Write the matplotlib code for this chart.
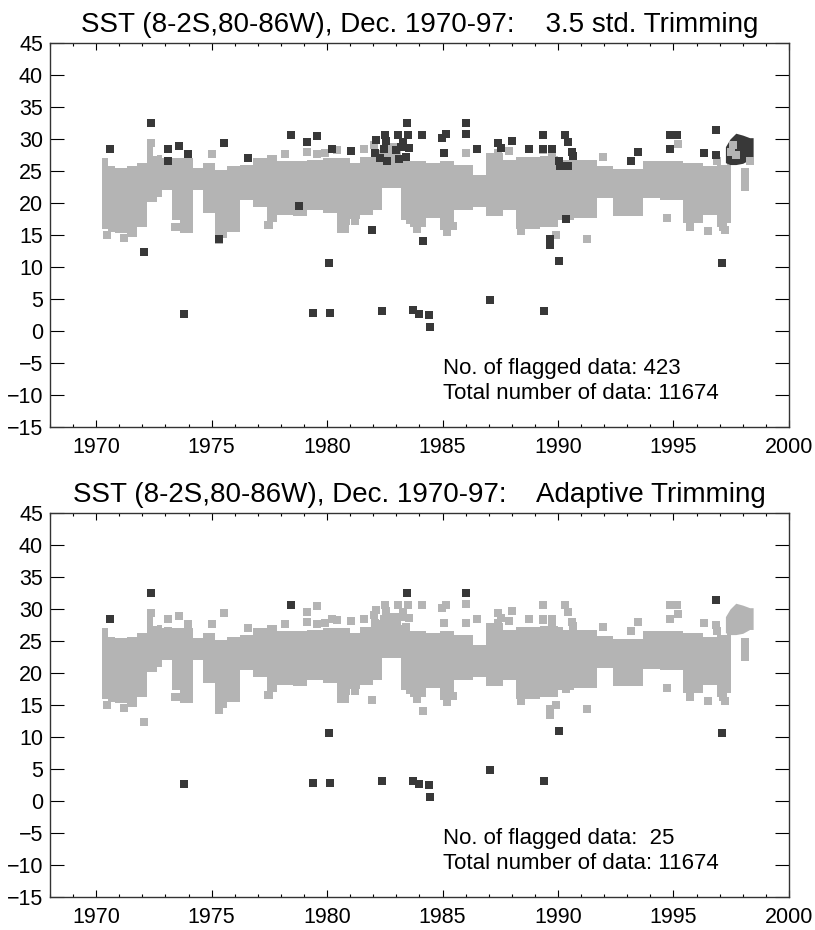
import numpy as np
import matplotlib.pyplot as plt
from matplotlib.ticker import MultipleLocator

plt.rcParams['font.family'] = ['Liberation Sans', 'DejaVu Sans']

env_year = [1970.27, 1970.53, 1970.82, 1971.32, 1971.75, 1972.19, 1972.45, 1972.62,
            1972.85, 1973.27, 1973.63, 1974.21, 1974.64, 1975.15, 1975.65, 1976.23,
            1976.81, 1977.38, 1977.82, 1978.54, 1979.12, 1979.84, 1980.42, 1980.99,
            1981.43, 1982.0, 1982.4, 1983.2, 1983.6, 1984.3, 1984.9, 1985.5,
            1986.3, 1986.9, 1987.6, 1988.2, 1989.2, 1990.0, 1990.7, 1991.7,
            1992.4, 1993.7, 1994.4, 1995.4, 1996.3, 1996.9, 1997.3, 1997.5]
env_low = [16.0, 15.5, 15.3, 14.7, 16.3, 20.2, 20.2, 21.0,
           22.0, 17.3, 15.3, 22.0, 18.5, 14.5, 15.5, 20.5,
           19.4, 17.0, 18.1, 17.9, 18.9, 18.4, 16.5, 17.5,
           18.1, 18.9, 22.3, 17.3, 16.3, 17.6, 15.8, 18.9,
           19.4, 17.9, 18.9, 16.0, 16.3, 17.3, 17.6, 20.8,
           17.9, 20.7, 20.5, 16.8, 18.1, 16.3, 16.8]
env_high = [27.1, 25.7, 25.4, 25.7, 26.2, 29.1, 27.3, 27.5,
            27.0, 27.0, 27.0, 25.4, 26.2, 25.1, 25.7, 26.0,
            27.0, 27.5, 26.5, 26.5, 26.7, 27.0, 27.0, 26.2,
            27.2, 28.3, 29.3, 27.5, 26.5, 26.2, 26.5, 26.0,
            24.4, 27.8, 26.7, 27.2, 27.3, 26.7, 26.7, 25.8,
            25.3, 26.5, 26.6, 26.2, 25.7, 26.0, 27.8]

# warm 1997-98 cluster
clus_year = [1997.25, 1997.45, 1997.7, 1998.0, 1998.3, 1998.45]
clus_low = [26.3, 26.0, 26.0, 26.2, 26.8, 26.8]
clus_high = [28.8, 30.0, 30.9, 30.6, 30.2, 30.2]

# scattered grey squares outside the dense part
gray_year = [1973.41, 1977.5, 1981.21, 1980.78, 1989.9, 1991.27, 1983.59, 1985.47,
             1996.51, 1994.71, 1997.16, 1995.19, 1996.88, 1975.0, 1978.19, 1979.15,
             1979.58, 1979.93, 1980.44, 1981.61, 1982.05, 1986.02, 1987.42, 1987.89,
             1989.37, 1989.73, 1991.97, 1972.39, 1998.1, 1998.1, 1998.1,
             1970.45, 1971.2, 1973.5, 1975.3, 1977.45, 1980.6, 1983.9, 1985.2,
             1988.4, 1995.7, 1997.25]
gray_val = [16.2, 16.6, 17.2, 16.0, 15.0, 14.3, 17.3, 16.4,
            15.6, 17.6, 16.3, 29.2, 26.5, 27.7, 27.7, 28.0,
            27.7, 27.8, 28.3, 28.5, 29.0, 27.8, 27.8, 28.1,
            28.3, 27.8, 27.2, 29.3, 22.5, 23.6, 24.8,
            15.0, 14.6, 16.3, 14.2, 16.6, 16.0, 15.9, 15.5,
            15.6, 16.3, 15.7]

# flagged by 3.5 std only
std_year = [1973.12, 1973.6, 1973.99, 1975.55, 1976.59, 1979.15, 1979.58, 1980.23,
            1981.05, 1978.8, 1972.09, 1975.3, 1973.12, 1982.52, 1983.09, 1983.52,
            1984.1, 1985.17, 1984.99, 1986.03, 1982.13, 1982.57, 1983.3, 1986.49,
            1987.42, 1987.53, 1988.02, 1988.76, 1989.37, 1989.37, 1989.76, 1990.32,
            1990.45, 1990.62, 1990.67, 1990.06, 1990.09, 1990.45, 1993.48, 1993.15,
            1982.08, 1985.06, 1981.96, 1984.17, 1989.67, 1989.67, 1990.36, 1994.83,
            1995.14, 1994.87, 1996.33, 1996.85, 1982.3, 1982.45, 1982.6, 1983.0,
            1983.1, 1983.2, 1983.4, 1983.55]
std_val = [28.5, 28.9, 27.7, 29.3, 27.1, 29.5, 30.5, 28.5,
           28.1, 19.6, 12.3, 14.4, 26.5, 30.6, 30.6, 30.6,
           30.6, 30.7, 30.1, 30.8, 29.9, 29.7, 29.6, 28.5,
           29.3, 28.6, 29.7, 28.5, 30.6, 28.5, 28.5, 30.6,
           29.6, 28.0, 27.3, 26.5, 25.7, 25.7, 27.9, 26.6,
           27.8, 27.8, 15.8, 14.1, 13.5, 14.4, 17.5, 30.6,
           30.6, 28.5, 27.8, 27.5, 27.0, 28.4, 26.5, 28.2,
           26.8, 28.8, 27.2, 28.6]

# flagged by both methods
adp_year = [1972.39, 1970.61, 1978.45, 1980.1, 1973.82, 1979.38, 1980.11, 1983.48,
            1986.03, 1990.06, 1987.07, 1982.39, 1983.74, 1984.0, 1984.43, 1984.47,
            1989.41, 1996.85, 1997.12]
adp_val = [32.5, 28.5, 30.6, 10.6, 2.6, 2.8, 2.8, 32.5,
           32.5, 11.0, 4.8, 3.1, 3.2, 2.6, 2.5, 0.6,
           3.1, 31.4, 10.6]

# grey specks inside the dark cluster (top panel)
speck_year = [1997.5, 1997.6, 1997.7, 1998.3]
speck_val = [28.0, 29.0, 27.5, 26.6]

title_l = 'SST (8-2S,80-86W), Dec. 1970-97:'
titles = ['3.5 std. Trimming', 'Adaptive Trimming']
n_flag = ['423', ' 25']
n_total = 11674

GRAY = '#b4b4b4'
DARK = '#383838'
MS = 5.3

fig = plt.figure(figsize=(8.15, 9.30), dpi=100)
ax1 = fig.add_axes([0.0613, 0.5409, 0.9067, 0.4129])
ax2 = fig.add_axes([0.0613, 0.0355, 0.9067, 0.4129])

ex = env_year
elo = env_low + [env_low[-1]]
ehi = env_high + [env_high[-1]]

for k, ax in enumerate([ax1, ax2]):
    ax.fill_between(ex, elo, ehi, step='post', color=GRAY, lw=0)
    ax.plot(gray_year, gray_val, 's', ms=MS, color=GRAY, mew=0)
    if k == 0:
        ax.fill_between(clus_year, clus_low, clus_high, color=DARK, lw=0)
        ax.plot(speck_year, speck_val, 's', ms=MS, color=GRAY, mew=0)
        ax.plot(std_year, std_val, 's', ms=MS, color=DARK, mew=0)
    else:
        ax.fill_between(clus_year, clus_low, clus_high, color=GRAY, lw=0)
        ax.plot(std_year, std_val, 's', ms=MS, color=GRAY, mew=0)
    ax.plot(adp_year, adp_val, 's', ms=MS, color=DARK, mew=0)

    ax.set_xlim(1968, 2000)
    ax.set_ylim(-15, 45)
    ax.xaxis.set_major_locator(MultipleLocator(5))
    ax.xaxis.set_minor_locator(MultipleLocator(1))
    ax.yaxis.set_major_locator(MultipleLocator(5))
    ax.tick_params(axis='x', which='major', direction='in', length=5, top=True,
                   labelsize=15.5, pad=7, width=0.8)
    ax.tick_params(axis='x', which='minor', direction='in', length=2.5, top=True, width=0.8)
    ax.tick_params(axis='y', which='major', direction='in', length=10, right=True,
                   labelsize=15.5, pad=5, width=0.8)
    for s in ax.spines.values():
        s.set_linewidth(1.0)
        s.set_color('#333333')

    ax.set_title(title_l + '    ' + titles[k], fontsize=20, pad=8)
    ax.text(1985.0, -5.8, 'No. of flagged data: ' + n_flag[k], fontsize=16, va='center')
    ax.text(1985.0, -9.7, 'Total number of data: %d' % n_total, fontsize=16, va='center')

fig.savefig('out.png', dpi=100)
